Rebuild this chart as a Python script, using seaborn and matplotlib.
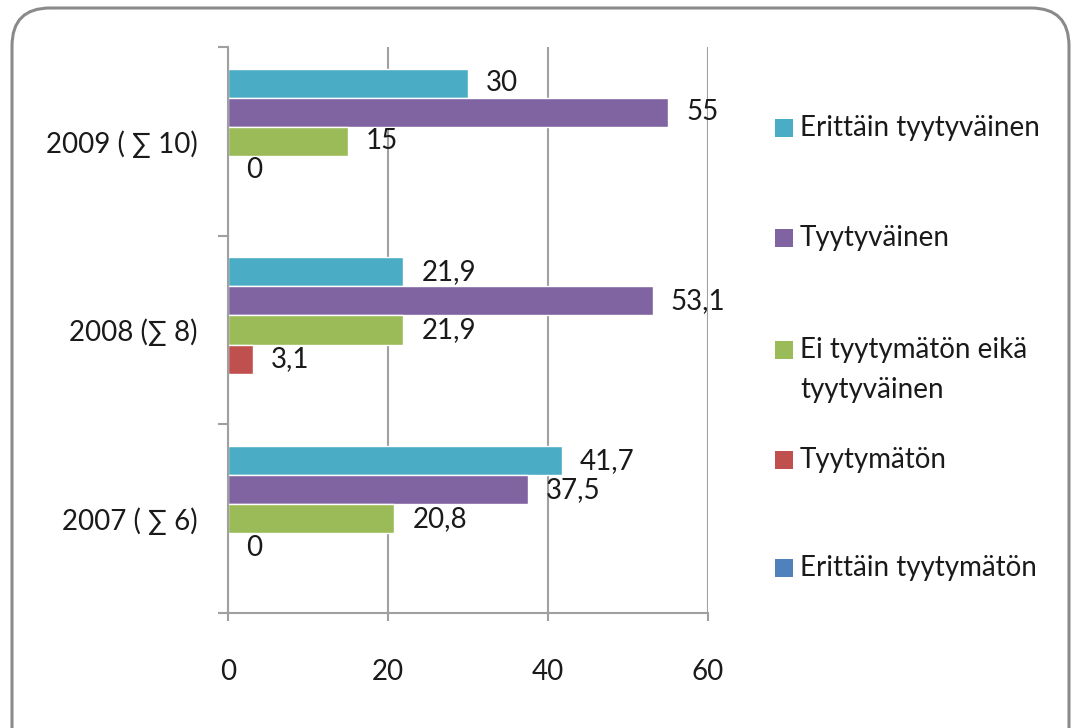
import matplotlib
matplotlib.use("Agg")
import matplotlib.pyplot as plt
import seaborn as sns
import pandas as pd
import numpy as np
from matplotlib.patches import FancyBboxPatch, Rectangle
from matplotlib.transforms import IdentityTransform
from matplotlib.ticker import FixedLocator
from matplotlib.colors import to_rgb

categories = ["2009 ( \u2211 10)", "2008 (\u2211 8)", "2007 ( \u2211 6)"]
series = ["Erittäin tyytyväinen", "Tyytyväinen", "Ei tyytymätön eikä\ntyytyväinen",
          "Tyytymätön", "Erittäin tyytymätön"]
erittain_tyytyvainen = [30, 21.9, 41.7]
tyytyvainen = [55, 53.1, 37.5]
ei_kumpikaan = [15, 21.9, 20.8]
tyytymaton = [0, 3.1, 0]
erittain_tyytymaton = [np.nan, np.nan, np.nan]
colors = ["#4BACC6", "#8064A2", "#9BBB59", "#C0504D", "#4F81BD"]
x_ticks = [0, 20, 40, 60]

values = [erittain_tyytyvainen, tyytyvainen, ei_kumpikaan, tyytymaton, erittain_tyytymaton]
rows = []
for s, vals in zip(series, values):
    for c, v in zip(categories, vals):
        rows.append({"cat": c, "series": s, "value": v})
df = pd.DataFrame(rows)

sns.set_theme(style="white")
plt.rcParams["font.family"] = ["Lato", "DejaVu Sans"]
FS = 20
TXT = "#1a1a1a"

W, H = 1077, 728
fig = plt.figure(figsize=(W / 100, H / 100), dpi=100)
ax = fig.add_axes([228 / W, 1 - 613 / H, 480 / W, 566 / H])

sns.barplot(data=df, y="cat", x="value", hue="series", order=categories,
            hue_order=series, palette=colors, orient="h", width=0.77,
            saturation=1, ax=ax, legend=False, errorbar=None)

def fmt(v):
    if v is None or np.isnan(v):
        return ""
    if float(v).is_integer():
        return str(int(v))
    return ("%.1f" % v).replace(".", ",")

rgb_list = [np.array(to_rgb(c)) for c in colors]
for p in ax.patches:
    if not isinstance(p, Rectangle):
        continue
    fc = np.array(p.get_facecolor()[:3])
    dists = [np.abs(fc - c).sum() for c in rgb_list]
    si = int(np.argmin(dists))
    if dists[si] > 0.05:
        continue
    yc = p.get_y() + p.get_height() / 2
    ci = int(round(yc))
    if ci < 0 or ci >= len(categories):
        continue
    v = values[si][ci]
    lab = fmt(v)
    if not lab:
        continue
    ax.annotate(lab, xy=(p.get_x() + p.get_width(), yc), xytext=(13, 0),
                textcoords="offset points", ha="left", va="center",
                fontsize=FS, color=TXT)

ax.set_xlim(0, 60)
ax.set_ylim(2.5, -0.5)
ax.set_xlabel("")
ax.set_ylabel("")
ax.xaxis.set_major_locator(FixedLocator(x_ticks))
ax.grid(axis="x", color="#a0a0a0", linewidth=1.5)
ax.set_axisbelow(True)
for side in ["top", "right"]:
    ax.spines[side].set_visible(False)
for side in ["left", "bottom"]:
    ax.spines[side].set_color("#a0a0a0")
    ax.spines[side].set_linewidth(1.5)

ax.tick_params(axis="x", length=6, width=1.5, color="#a0a0a0", pad=27,
               labelsize=FS, labelcolor=TXT, bottom=True)
ax.tick_params(axis="y", which="major", length=0, pad=22, labelsize=FS,
               labelcolor=TXT)
ax.yaxis.set_minor_locator(FixedLocator([-0.5, 0.5, 1.5, 2.5]))
ax.tick_params(axis="y", which="minor", length=7, width=1.5, color="#a0a0a0", left=True)

# legend, placed manually in pixel coordinates
legend_y = [128, 238, 350, 460, 568]
for s, c, y in zip(series, colors, legend_y):
    fig.add_artist(Rectangle((775, H - y - 9), 18, 18, transform=IdentityTransform(),
                             facecolor=c, edgecolor="none"))
    lines = s.split("\n")
    for k, line in enumerate(lines):
        fig.text(800 / W, 1 - (y + 40 * k) / H, line, ha="left", va="center",
                 fontsize=FS, color=TXT)

border = FancyBboxPatch((12, -60), 1057, 728 - 8 + 60,
                        boxstyle="round,pad=0,rounding_size=38",
                        transform=IdentityTransform(), facecolor="none",
                        edgecolor="#8a8a8a", linewidth=2.2)
fig.add_artist(border)

fig.savefig("out.png", dpi=100)
